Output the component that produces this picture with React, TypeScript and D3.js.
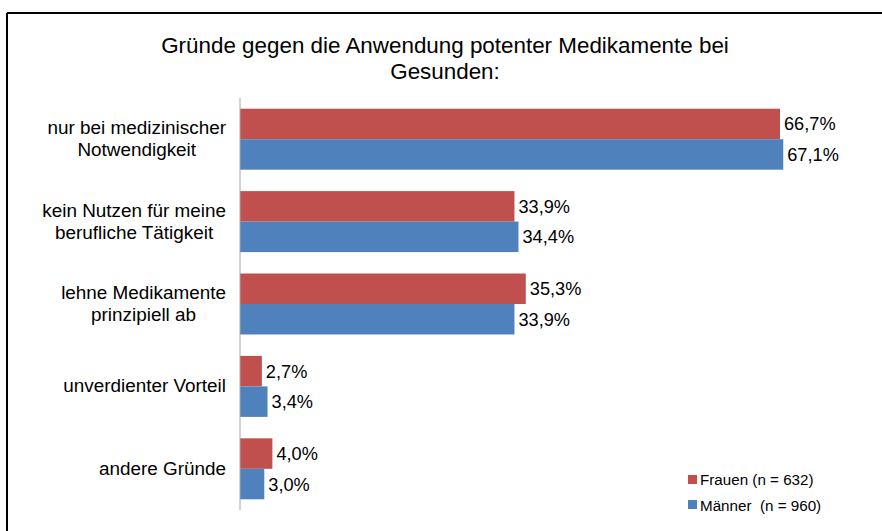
import React from "react";
import * as d3 from "d3";

const categories: string[][] = [
  ["nur bei medizinischer", "Notwendigkeit"],
  ["kein Nutzen für meine", "berufliche Tätigkeit"],
  ["lehne Medikamente", "prinzipiell ab"],
  ["unverdienter Vorteil"],
  ["andere Gründe"],
];
const frauen = [66.7, 33.9, 35.3, 2.7, 4.0];
const maenner = [67.1, 34.4, 33.9, 3.4, 3.0];
const seriesNames = ["Frauen (n = 632)", "Männer  (n = 960)"];
const colors = ["#C0504D", "#4F81BD"];
const titleLines = ["Gründe gegen die Anwendung potenter Medikamente bei", "Gesunden:"];

const FONT = "Liberation Sans, Arial, sans-serif";
const LABEL_SIZE = 18.9;

function measure(text: string, size: number): number {
  const c = document.createElement("canvas").getContext("2d");
  if (!c) return text.length * size * 0.5;
  c.font = `${size}px "Liberation Sans", Arial, sans-serif`;
  return c.measureText(text).width;
}

export default function App() {
  const W = 882, H = 531;
  const axisX = 240;
  const y0 = 98, y1 = 510;
  const idx = categories.map((_, i) => String(i));
  const y = d3.scaleBand().domain(idx).range([y0, y1]).paddingInner(0.26).paddingOuter(0.13);
  const x = d3.scaleLinear().domain([0, 66.7]).range([axisX, 780]);
  const series = [frauen, maenner];
  const bh = y.bandwidth() / 2;
  const fmt = (v: number) => v.toFixed(1).replace(".", ",") + "%";
  const labelRight = 226;

  return (
    <svg width={W} height={H} style={{ position: "absolute", left: 0, top: 0, background: "#fff" }} fontFamily={FONT}>
      <line x1={7} y1={13} x2={W} y2={13} stroke="#000" strokeWidth={2} />
      <line x1={7} y1={13} x2={7} y2={H} stroke="#000" strokeWidth={2} />
      {titleLines.map((t, i) => (
        <text key={i} x={445} y={53 + i * 26} textAnchor="middle" fontSize={22.4} fill="#000">{t}</text>
      ))}
      {series.map((s, si) =>
        s.map((v, i) => {
          const yy = (y(String(i)) as number) + si * bh;
          return (
            <g key={`${si}-${i}`}>
              <rect x={x(0)} y={yy} width={x(v) - x(0)} height={bh} fill={colors[si]} />
              <text x={x(v) + 4} y={yy + bh / 2 + 6.5} fontSize={18.2} fill="#000">{fmt(v)}</text>
            </g>
          );
        })
      )}
      <line x1={axisX} y1={y0} x2={axisX} y2={y1} stroke="#A6A6A6" strokeWidth={1} />
      {categories.map((lines, i) => {
        const cy = (y(String(i)) as number) + y.bandwidth() / 2;
        const maxW = Math.max(...lines.map((l) => measure(l, LABEL_SIZE)));
        const cx = labelRight - maxW / 2;
        const lh = 22;
        const start = cy - ((lines.length - 1) * lh) / 2 + 6;
        return lines.map((l, j) => (
          <text key={`${i}-${j}`} x={cx} y={start + j * lh} textAnchor="middle" fontSize={LABEL_SIZE} fill="#000">{l}</text>
        ));
      })}
      {seriesNames.map((n, i) => (
        <g key={n}>
          <rect x={688} y={475 + i * 25} width={9} height={9} fill={colors[i]} />
          <text x={700} y={485 + i * 26} fontSize={15.2} fill="#000" style={{ whiteSpace: "pre" }}>{n}</text>
        </g>
      ))}
    </svg>
  );
}
